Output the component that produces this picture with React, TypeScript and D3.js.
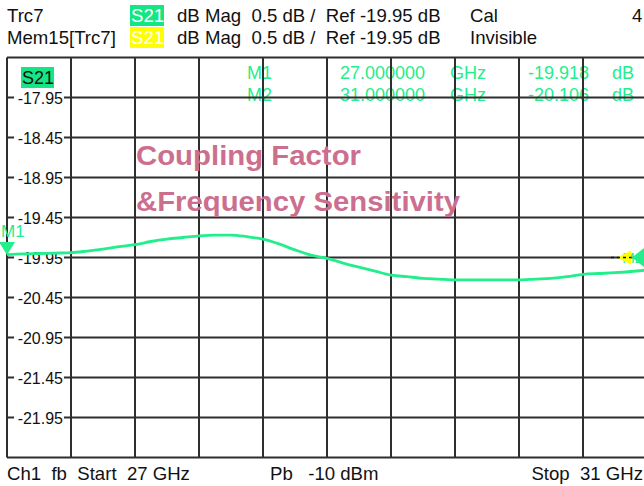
import React from 'react';
import * as d3 from 'd3';

// sweep points, GHz
const freqs = [
  27.0, 27.1, 27.2, 27.3, 27.4, 27.5, 27.6, 27.7, 27.8, 27.9,
  28.0, 28.1, 28.2, 28.3, 28.4, 28.5, 28.6, 28.7, 28.8, 28.9,
  29.0, 29.1, 29.2, 29.3, 29.4, 29.5, 29.6, 29.7, 29.8, 29.9,
  30.0, 30.1, 30.2, 30.3, 30.4, 30.5, 30.6, 30.7, 30.8, 30.9, 31.0,
];
// S21 magnitude, dB
const s21 = [
  -19.915, -19.905, -19.9, -19.895, -19.89, -19.87, -19.845, -19.815, -19.79, -19.75,
  -19.72, -19.7, -19.68, -19.67, -19.67, -19.69, -19.72, -19.78, -19.855, -19.92,
  -19.96, -20.02, -20.07, -20.12, -20.17, -20.19, -20.21, -20.22, -20.23, -20.23,
  -20.23, -20.23, -20.23, -20.22, -20.21, -20.19, -20.16, -20.15, -20.14, -20.125, -20.106,
];
const yTicks = [-17.95, -18.45, -18.95, -19.45, -19.95, -20.45, -20.95, -21.45, -21.95];
const markerNames = ['M1', 'M2'];
const markerFreqs = [27.0, 31.0];
const markerVals = [-19.918, -20.106];

const W = 644;
const H = 486;
const FONT = '"Liberation Sans", Arial, sans-serif';
const GREEN = '#22ee8c';
const BADGE = '#14e683';
const SP = '\u00a0';

export default function App() {
  const x = d3.scaleLinear().domain([27, 31]).range([7, 647]);
  const y = d3.scaleLinear().domain([-17.45, -22.45]).range([57.5, 457.5]);

  const line = d3.line<number>()
    .x((_, i) => x(freqs[i]))
    .y(d => y(d))
    .curve(d3.curveMonotoneX);

  const vGrid = d3.range(11).map(i => 27 + i * 0.4);
  const hGrid = d3.range(11).map(i => -17.45 - i * 0.5);

  const mx1 = x(markerFreqs[0]);
  const my1 = y(markerVals[0]);
  const mx2 = x(markerFreqs[1]);
  const my2 = y(markerVals[1]);
  const yRef = y(-19.95);

  const scaleText = `dB Mag${SP}${SP}0.5 dB /${SP}${SP}Ref -19.95 dB`;

  return (
    <svg width={W} height={H} style={{ position: 'absolute', left: 0, top: 0, background: '#fff', overflow: 'hidden' }}
      fontFamily={FONT}>
      {/* header */}
      <g fontSize={18.6} fill="#111">
        <text x={7} y={22}>Trc7</text>
        <rect x={130} y={5} width={34} height={21} fill={BADGE} />
        <text x={131} y={22} fill="#fff">S21</text>
        <text x={177} y={22}>{scaleText}</text>
        <text x={470} y={22}>Cal</text>
        <text x={632} y={22}>4</text>

        <text x={7} y={44}>Mem15[Trc7]</text>
        <rect x={130} y={27} width={34} height={21} fill="#ffff00" />
        <text x={131} y={44} fill="#fff">S21</text>
        <text x={177} y={44}>{scaleText}</text>
        <text x={470} y={44}>Invisible</text>
      </g>

      {/* marker table */}
      <g fontSize={18} fill={GREEN}>
        {markerNames.map((m, i) => (
          <g key={m}>
            <text x={247} y={79 + i * 22}>{m}</text>
            <text x={340} y={79 + i * 22}>{markerFreqs[i].toFixed(6)}</text>
            <text x={450} y={79 + i * 22}>GHz</text>
            <text x={528} y={79 + i * 22}>{markerVals[i].toFixed(3)}</text>
            <text x={612} y={79 + i * 22}>dB</text>
          </g>
        ))}
      </g>

      {/* grid */}
      <g stroke="#2e2e2e" strokeWidth={2}>
        {vGrid.map(f => (
          <line key={'v' + f} x1={x(f)} x2={x(f)} y1={y(-17.45)} y2={y(-22.45)} />
        ))}
        {hGrid.map(v => (
          <line key={'h' + v} x1={x(27)} x2={x(31)} y1={y(v)} y2={y(v)} />
        ))}
      </g>

      {/* title */}
      <g fontSize={28} fontWeight="bold" fill="#cc6f8f">
        <text x={136} y={165} textLength={225} lengthAdjust="spacingAndGlyphs">Coupling Factor</text>
        <text x={136} y={211} textLength={324} lengthAdjust="spacingAndGlyphs">&amp;Frequency Sensitivity</text>
      </g>

      {/* y labels */}
      <g fontSize={16} fill="#111">
        {yTicks.map(v => (
          <g key={v}>
            <rect x={14} y={y(v) - 9} width={50} height={18} fill="#fff" />
            <text x={63} y={y(v) + 6} textAnchor="end">{v.toFixed(2)}</text>
          </g>
        ))}
        <rect x={21} y={67} width={33} height={21} fill={BADGE} />
        <text x={22} y={84} fontSize={18}>S21</text>
      </g>

      {/* trace */}
      <path d={line(s21) ?? ''} fill="none" stroke={GREEN} strokeWidth={2.8} />

      {/* M1 marker */}
      <path d={`M${mx1 - 8},${my1 - 13}L${mx1 + 8},${my1 - 13}L${mx1},${my1}Z`} fill={GREEN} />
      <text x={1} y={my1 - 18} fontSize={17} fill={GREEN}>{markerNames[0]}</text>

      {/* ref level arrows + M2 at right edge */}
      <text x={643} y={yRef + 5} fontSize={15} fill={GREEN} textAnchor="end">{markerNames[1]}</text>
      <path d={`M${mx2 - 30},${yRef}L${mx2 - 16},${yRef - 7}L${mx2 - 16},${yRef + 7}Z`} fill="#ffff00" />
      <line x1={mx2 - 36} x2={mx2 - 16} y1={yRef} y2={yRef} stroke="#111" strokeWidth={1.5} strokeDasharray="3,3" />
      <path d={`M${mx2 - 15},${yRef}L${mx2},${yRef - 12}L${mx2},${yRef + 12}Z`} fill={GREEN} />
      <path d={`M${mx2 - 8},${my2 - 13}L${mx2 + 8},${my2 - 13}L${mx2},${my2}Z`} fill={GREEN} />

      {/* footer */}
      <g fontSize={18.6} fill="#111">
        <text x={7} y={480}>{`Ch1${SP}${SP}fb${SP}${SP}Start${SP}${SP}27 GHz`}</text>
        <text x={270} y={480}>{`Pb${SP}${SP}${SP}-10 dBm`}</text>
        <text x={643} y={480} textAnchor="end">{`Stop${SP}${SP}31 GHz`}</text>
      </g>
    </svg>
  );
}
